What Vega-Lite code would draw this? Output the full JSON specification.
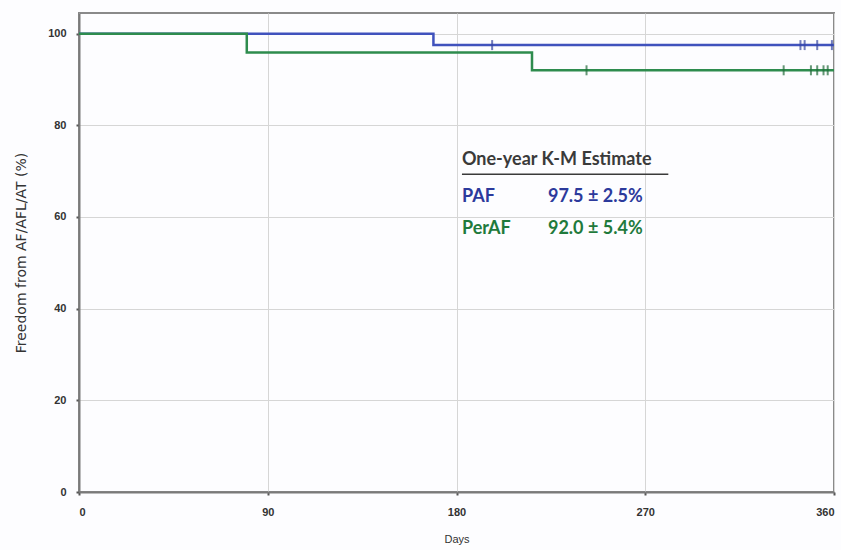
{
  "$schema": "https://vega.github.io/schema/vega-lite/v6.json",
  "width": 755,
  "height": 479,
  "autosize": {"type": "none"},
  "padding": {"left": 79, "top": 13, "right": 7, "bottom": 58},
  "background": "#fdfdff",
  "config": {
    "view": {"stroke": "#8a8a8a", "strokeWidth": 2},
    "font": "Liberation Sans",
    "axis": {
      "domainColor": "#7a7a7a", "domainWidth": 2,
      "gridColor": "#d6d6d6", "gridWidth": 1,
      "tickColor": "#555", "tickSize": 3, "tickWidth": 2,
      "labelColor": "#333", "labelFontSize": 11, "labelFontWeight": "bold",
      "titleColor": "#333", "titleFontSize": 11, "titleFontWeight": "normal"
    }
  },
  "datasets": {
    "curves": [
      {"day": 0, "pct": 100, "group": "PAF"},
      {"day": 169, "pct": 97.5, "group": "PAF"},
      {"day": 360, "pct": 97.5, "group": "PAF"},
      {"day": 0, "pct": 100, "group": "PerAF"},
      {"day": 80, "pct": 95.9, "group": "PerAF"},
      {"day": 216, "pct": 92.0, "group": "PerAF"},
      {"day": 360, "pct": 92.0, "group": "PerAF"}
    ],
    "censor": [
      {"day": 197, "pct": 97.5, "group": "PAF"},
      {"day": 344, "pct": 97.5, "group": "PAF"},
      {"day": 346, "pct": 97.5, "group": "PAF"},
      {"day": 352, "pct": 97.5, "group": "PAF"},
      {"day": 359, "pct": 97.5, "group": "PAF"},
      {"day": 242, "pct": 92.0, "group": "PerAF"},
      {"day": 336, "pct": 92.0, "group": "PerAF"},
      {"day": 349, "pct": 92.0, "group": "PerAF"},
      {"day": 352, "pct": 92.0, "group": "PerAF"},
      {"day": 355, "pct": 92.0, "group": "PerAF"},
      {"day": 357, "pct": 92.0, "group": "PerAF"}
    ],
    "notes": [
      {"label": "One-year K-M Estimate", "day": 182.6, "pct": 72.5, "group": "head"},
      {"label": "PAF", "day": 182.6, "pct": 64.4, "group": "PAF"},
      {"label": "97.5 ± 2.5%", "day": 223.6, "pct": 64.4, "group": "PAF"},
      {"label": "PerAF", "day": 182.6, "pct": 57.4, "group": "PerAF"},
      {"label": "92.0 ± 5.4%", "day": 223.6, "pct": 57.4, "group": "PerAF"}
    ],
    "underline": [
      {"day": 182.6, "day2": 281, "pct": 69.3}
    ]
  },
  "encoding": {
    "x": {"field": "day", "type": "quantitative", "title": "Days",
      "scale": {"domain": [0, 360], "nice": false, "zero": false},
      "axis": {"values": [0, 90, 180, 270, 360], "labelPadding": 11, "titleY": 41}},
    "y": {"field": "pct", "type": "quantitative", "title": "Freedom from AF/AFL/AT (%)",
      "scale": {"domain": [0, 104.5], "nice": false},
      "axis": {"values": [0, 20, 40, 60, 80, 100], "labelPadding": 10, "titleX": -51,
        "titleFont": "DejaVu Sans", "titleFontSize": 14}}
  },
  "layer": [
    {
      "data": {"name": "curves"},
      "mark": {"type": "line", "interpolate": "step-after", "strokeWidth": 2.5},
      "encoding": {
        "color": {"field": "group", "type": "nominal", "legend": null,
          "scale": {"domain": ["PAF", "PerAF"], "range": ["#4052bd", "#2e8c4e"]}},
        "order": {"field": "day", "type": "quantitative"}
      }
    },
    {
      "data": {"name": "censor"},
      "mark": {"type": "tick", "orient": "vertical", "size": 10, "thickness": 2},
      "encoding": {
        "color": {"field": "group", "type": "nominal", "legend": null,
          "scale": {"domain": ["PAF", "PerAF"], "range": ["#34449f", "#226b3b"]}}
      }
    },
    {
      "data": {"name": "notes"},
      "mark": {"type": "text", "align": "left", "baseline": "middle", "font": "Lato", "fontSize": 18, "fontWeight": "bold"},
      "encoding": {
        "text": {"field": "label"},
        "color": {"field": "group", "type": "nominal", "legend": null,
          "scale": {"domain": ["head", "PAF", "PerAF"], "range": ["#3a3a3a", "#2c3a9c", "#1f7a3c"]}}
      }
    },
    {
      "data": {"name": "underline"},
      "mark": {"type": "rule", "color": "#3a3a3a", "strokeWidth": 1.5},
      "encoding": {"x2": {"field": "day2"}}
    }
  ],
  "resolve": {"scale": {"color": "independent"}}
}
